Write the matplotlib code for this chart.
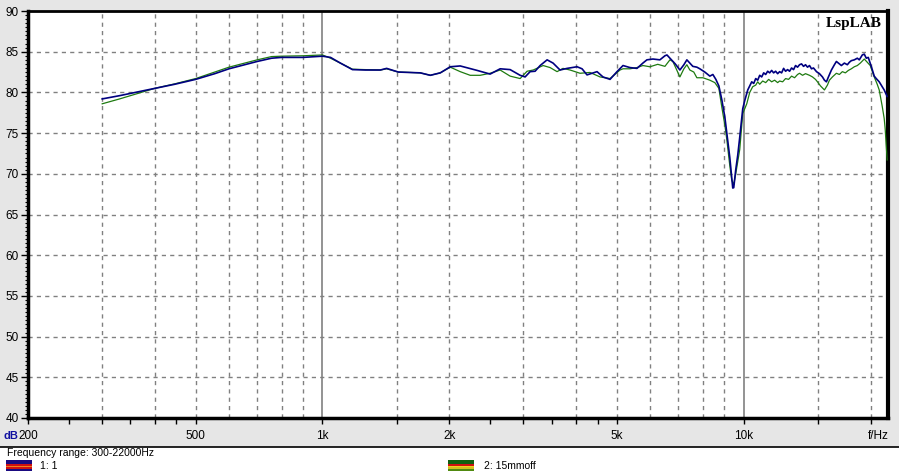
import matplotlib
matplotlib.use('Agg')
import matplotlib.pyplot as plt
from matplotlib.patches import Rectangle
from matplotlib.lines import Line2D
from matplotlib.ticker import FixedLocator, FixedFormatter, MultipleLocator, NullLocator

# ---------------- data ----------------
blue_freq = [300, 330, 400, 446, 500, 555, 600, 700, 757, 800, 900, 1000, 1045, 1103,
             1178, 1264, 1372, 1420, 1514, 1616, 1707, 1803, 1904, 2011, 2123, 2329,
             2500, 2641, 2789, 2946, 3027, 3111, 3197, 3286, 3414, 3527, 3664, 3807,
             4021, 4132, 4246, 4485, 4633, 4815, 5002, 5169, 5370, 5579, 5762, 5890,
             6087, 6324, 6500, 6572, 6680, 6877, 7054, 7210, 7328, 7448, 7570, 7739,
             7866, 8083, 8309, 8447, 8586, 8728, 8870, 9017, 9116, 9266, 9367, 9417,
             9468, 9572, 9678, 9784, 9946, 10055, 10221, 10333, 10446, 10561, 10676,
             10793, 10911, 11031, 11152, 11274, 11397, 11522, 11648, 11775, 11904,
             12035, 12166, 12300, 12434, 12570, 12708, 12847, 12988, 13130, 13274,
             13419, 13566, 13715, 13865, 14017, 14170, 14325, 14482, 14641, 14882,
             15127, 15376, 15544, 15714, 15886, 16148, 16414, 16593, 16866, 17051,
             17332, 17617, 17810, 18005, 18301, 18603, 18806, 19116, 19325, 19537,
             19751, 20076, 20406, 20630, 20969, 21314, 21547, 21901]
blue_db = [79.2, 79.6, 80.5, 81.0, 81.6, 82.3, 82.9, 83.8, 84.2, 84.3, 84.3, 84.45, 84.3, 83.6,
           82.8, 82.75, 82.75, 82.95, 82.5, 82.45, 82.4, 82.1, 82.4, 83.15, 83.25, 82.7,
           82.25, 82.9, 82.8, 82.1, 81.9, 82.55, 82.6, 83.3, 84.0, 83.6, 82.75, 82.95,
           83.15, 82.9, 82.15, 82.55, 81.9, 81.6, 82.55, 83.3, 83.05, 82.95, 83.6, 84.0,
           84.1, 84.0, 84.5, 84.6, 84.2, 83.5, 82.75, 83.4, 84.0, 83.6, 83.2, 83.1,
           82.9, 82.5, 82.0, 82.2, 81.6, 80.8, 79.1, 77.0, 75.0, 72.0, 69.5, 68.25,
           68.3, 70.5, 72.3, 74.5, 78.0, 79.0, 80.3, 80.8, 81.3, 81.1, 81.7,
           81.5, 82.1, 81.9, 82.4, 82.2, 82.6, 82.4, 82.7, 82.4, 82.6,
           82.3, 82.55, 82.4, 82.95, 82.6, 82.8, 82.6, 83.0, 82.8, 83.3,
           83.1, 83.4, 83.5, 83.2, 83.4, 83.1, 83.3, 82.9, 83.0, 82.55,
           82.3, 81.9, 81.5, 81.3, 81.9, 82.75, 83.4, 83.8, 83.5, 83.3,
           83.6, 83.4, 83.7, 83.9, 84.0, 84.2, 84.0, 84.6, 84.7, 84.2,
           84.3, 83.2, 82.0, 81.7, 81.3, 80.7, 80.3, 79.5]

green_freq = [300, 330, 400, 446, 500, 555, 600, 700, 757, 800, 900, 1000, 1045, 1103,
              1178, 1264, 1372, 1420, 1514, 1616, 1707, 1803, 1904, 2011, 2123, 2242,
              2368, 2500, 2641, 2789, 2946, 3060, 3164, 3340, 3470, 3605, 3724, 3870,
              4087, 4316, 4559, 4815, 5085, 5169, 5370, 5579, 5762, 5988, 6250, 6500,
              6680, 6788, 7054, 7210, 7328, 7448, 7610, 7739, 7999, 8309, 8538, 8728,
              8870, 9017, 9116, 9266, 9367, 9468, 9572, 9678, 9784, 9946, 10166, 10333,
              10503, 10676, 10793, 10911, 11092, 11274, 11460, 11648, 11840, 12035,
              12166, 12367, 12570, 12777, 12988, 13202, 13419, 13566, 13790, 14017,
              14325, 14561, 14801, 14963, 15209, 15544, 15800, 15973, 16236, 16593,
              16866, 17144, 17426, 17713, 18005, 18301, 18603, 18909, 19325, 19644,
              19967, 20406, 20742, 20969, 21314, 21547, 21665, 21784, 21901]
green_db = [78.6, 79.2, 80.5, 81.05, 81.7, 82.5, 83.1, 84.0, 84.4, 84.45, 84.5, 84.6, 84.2, 83.6,
            82.85, 82.8, 82.75, 82.9, 82.5, 82.45, 82.4, 82.1, 82.4, 83.1, 82.55, 82.1,
            82.1, 82.35, 82.75, 82.0, 81.7, 82.6, 82.75, 83.3, 83.05, 82.55, 82.95, 82.75,
            82.35, 82.45, 81.9, 81.7, 82.75, 82.9, 82.9, 83.05, 83.3, 83.15, 83.45, 83.2,
            84.0, 83.8, 81.9, 82.9, 83.4, 82.75, 82.5, 81.8, 81.8, 81.5, 81.2, 80.5,
            78.2, 76.0, 74.2, 71.0, 69.2, 68.7, 70.0, 71.5, 73.0, 77.4, 78.6, 80.0,
            80.7, 80.9, 81.3, 81.0, 81.4, 81.2, 81.6, 81.3, 81.5, 81.2,
            81.4, 81.3, 81.7, 81.6, 82.0, 81.8, 82.2, 82.35, 82.1, 82.3,
            82.1, 81.9, 81.6, 81.3, 80.8, 80.3, 80.9, 81.5, 81.9, 82.35,
            82.2, 82.55, 82.4, 82.7, 82.9, 83.15, 83.3, 83.6, 84.1, 83.7,
            83.3, 81.9, 81.0, 80.3, 78.3, 76.8, 75.5, 73.5, 71.7]

y_major = [40, 45, 50, 55, 60, 65, 70, 75, 80, 85, 90]
x_tick_pos = [200, 250, 300, 350, 400, 450, 500, 1000, 1500, 2000, 2500, 3000, 3500,
              4000, 4500, 5000, 10000, 15000, 20000]
x_tick_lab = ['200', '', '', '', '', '', '500', '1k', '', '2k', '', '', '', '', '',
              '5k', '10k', '', '']
grid_dashed_x = [300, 400, 500, 600, 700, 800, 900, 1500, 2000, 3000, 4000, 5000,
                 6000, 7000, 8000, 9000, 15000, 20000]
grid_solid_x = [1000, 10000]
legend_labels = ['1: 1', '2: 15mmoff']

# ---------------- figure ----------------
W, H = 899, 476
plt.rcParams['font.family'] = ['Liberation Sans', 'DejaVu Sans']
fig = plt.figure(figsize=(W / 100, H / 100), dpi=100, facecolor='#e6e6e6')


def fx(x):
    return x / W


def fy(y):
    return 1 - y / H


fig.patches.append(Rectangle((0, 0), 1, fy(447), transform=fig.transFigure,
                             facecolor='white', edgecolor='none', zorder=0))
fig.add_artist(Line2D([0, 1], [fy(446.5)] * 2, color='black', lw=1.2,
                      transform=fig.transFigure))

ax = fig.add_axes([fx(28), fy(418), fx(888 - 28), (418 - 11) / H])
ax.set_facecolor('white')
ax.set_xscale('log')
ax.set_xlim(200, 22000)
ax.set_ylim(40, 90)

for v in y_major[1:-1]:
    ax.axhline(v, color='#808080', lw=1, dashes=(3, 3), zorder=1)
for f in grid_dashed_x:
    ax.axvline(f, color='#808080', lw=1, dashes=(3, 3), zorder=1)
for f in grid_solid_x:
    ax.axvline(f, color='#808080', lw=1.2, zorder=1)

ax.plot(green_freq, green_db, color='#1e7a10', lw=0.9, zorder=3)
ax.plot(blue_freq, blue_db, color='#000080', lw=1.2, zorder=4)

ax.yaxis.set_major_locator(FixedLocator(y_major))
ax.yaxis.set_minor_locator(MultipleLocator(0.5))
ax.tick_params(axis='y', which='major', length=5, width=1, pad=1.5, labelsize=8.5)
ax.tick_params(axis='y', which='minor', length=2.5, width=0.8)

ax.xaxis.set_major_locator(FixedLocator(x_tick_pos))
ax.xaxis.set_major_formatter(FixedFormatter(x_tick_lab))
ax.xaxis.set_minor_locator(NullLocator())
ax.tick_params(axis='x', which='major', length=4.5, width=1, pad=4, labelsize=8.5)

ax.spines['left'].set_linewidth(2.5)
ax.spines['bottom'].set_linewidth(2.5)
ax.spines['top'].set_linewidth(2)
ax.spines['right'].set_linewidth(3)

fig.text(fx(878), fy(436), 'f/Hz', ha='center', va='center', fontsize=8.5)
fig.text(fx(4), fy(436), 'dB', ha='left', va='center', fontsize=8,
         color='#1010a0', fontweight='bold')
fig.text(fx(826), fy(23), 'LspLAB', ha='left', va='center', fontsize=11,
         family='Liberation Serif', fontweight='bold')
fig.text(fx(7), fy(453), 'Frequency range: 300-22000Hz', ha='left', va='center',
         fontsize=7.5)


def swatch(x0, colors):
    y0, h = 460, 11
    hs = h / len(colors)
    for i, c in enumerate(colors):
        fig.patches.append(Rectangle((fx(x0), fy(y0 + (i + 1) * hs)), fx(26), hs / H,
                                     transform=fig.transFigure, facecolor=c,
                                     edgecolor='none', zorder=2))


swatch(6, ['#1a0a80', '#1a0a80', '#d01010', '#f08020', '#d01010', '#1a0a80'])
swatch(448, ['#106010', '#106010', '#d01010', '#f0d020', '#d0c020', '#508a10'])
fig.text(fx(40), fy(466), legend_labels[0], ha='left', va='center', fontsize=7.5)
fig.text(fx(484), fy(466), legend_labels[1], ha='left', va='center', fontsize=7.5)

fig.savefig('out.png', dpi=100, facecolor=fig.get_facecolor())
